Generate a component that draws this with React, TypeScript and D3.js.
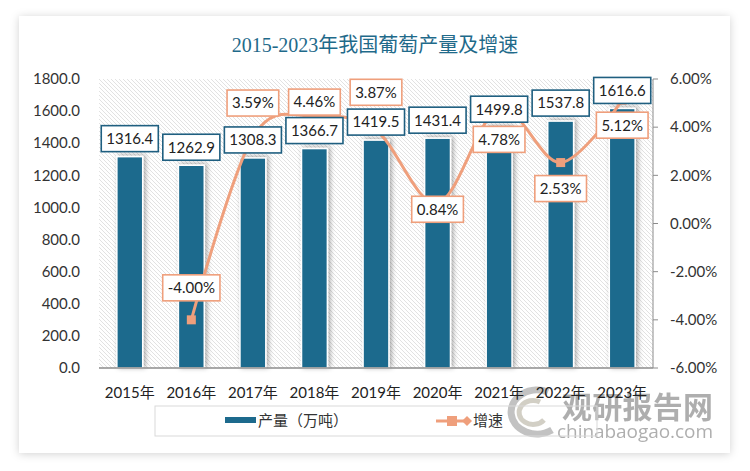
import React, { useEffect, useRef } from 'react';
import * as d3 from 'd3';

// 年份 / 产量（万吨）/ 增速（%）
const years = ['2015年', '2016年', '2017年', '2018年', '2019年', '2020年', '2021年', '2022年', '2023年'];
const output = [1316.4, 1262.9, 1308.3, 1366.7, 1419.5, 1431.4, 1499.8, 1537.8, 1616.6];
const growth: (number | null)[] = [null, -4.0, 3.59, 4.46, 3.87, 0.84, 4.78, 2.53, 5.12];
const leftTicks = [0, 200, 400, 600, 800, 1000, 1200, 1400, 1600, 1800];
const rightTicks = [-6, -4, -2, 0, 2, 4, 6];

// label placement (vertical offset of the % label centre from its point)
const growthLabelDy = [0, -32, -34, -14, -38, 6, 31, 26, 25];

const W = 750;
const H = 471;
const plot = { left: 99, right: 653, top: 79, bottom: 368 };
const FONT = "Lato, 'Noto Sans CJK SC', sans-serif";
const BLUE = '#1d6a8d';
const ORANGE = '#ef9f7c';

const App = () => {
  const svgRef = useRef<SVGSVGElement>(null);

  useEffect(() => {
    const svg = d3.select(svgRef.current);
    svg.selectAll('*').remove();
    svg.attr('width', W).attr('height', H);

    const defs = svg.append('defs');
    const cardShadow = defs.append('filter').attr('id', 'cardShadow')
      .attr('x', '-5%').attr('y', '-5%').attr('width', '110%').attr('height', '110%');
    cardShadow.append('feDropShadow').attr('dx', 0).attr('dy', 1).attr('stdDeviation', 4)
      .attr('flood-color', '#000').attr('flood-opacity', 0.18);

    const barShadow = defs.append('filter').attr('id', 'barShadow')
      .attr('x', '-40%').attr('y', '-10%').attr('width', '180%').attr('height', '120%');
    barShadow.append('feDropShadow').attr('dx', 2).attr('dy', -1).attr('stdDeviation', 2.5)
      .attr('flood-color', '#000').attr('flood-opacity', 0.35);

    const hatch = defs.append('pattern').attr('id', 'hatch')
      .attr('patternUnits', 'userSpaceOnUse').attr('width', 4).attr('height', 4);
    hatch.append('rect').attr('width', 4).attr('height', 4).attr('fill', '#fff');
    hatch.append('path').attr('d', 'M0,0 L4,4 M-1,3 L1,5 M3,-1 L5,1')
      .attr('stroke', '#e2e2e2').attr('stroke-width', 1);

    // card
    svg.append('rect').attr('x', 0).attr('y', 0).attr('width', W).attr('height', H).attr('fill', '#fff');
    svg.append('rect').attr('x', 19).attr('y', 16).attr('width', 711).attr('height', 437)
      .attr('fill', '#fff').attr('filter', 'url(#cardShadow)');

    // title
    svg.append('text').attr('x', 375).attr('y', 52).attr('text-anchor', 'middle')
      .attr('font-family', "'Liberation Serif', 'Noto Sans CJK SC', serif")
      .attr('font-size', 20).attr('fill', '#1f6a8a')
      .text('2015-2023年我国葡萄产量及增速');

    const x = d3.scaleBand().domain(years).range([plot.left, plot.right]);
    const yL = d3.scaleLinear().domain([0, 1800]).range([plot.bottom, plot.top]);
    const yR = d3.scaleLinear().domain([-6, 6]).range([plot.bottom, plot.top]);
    const cx = (d: string) => (x(d) as number) + x.bandwidth() / 2;
    const barW = x.bandwidth() * 0.42;

    // plot area background
    svg.append('rect').attr('x', plot.left).attr('y', plot.top)
      .attr('width', plot.right - plot.left).attr('height', plot.bottom - plot.top)
      .attr('fill', 'url(#hatch)');

    // left axis labels
    svg.append('g').selectAll('text').data(leftTicks).enter().append('text')
      .attr('x', 80).attr('y', d => yL(d)).attr('dy', '0.35em').attr('text-anchor', 'end')
      .attr('font-family', FONT).attr('font-size', 15).attr('fill', '#333')
      .text(d => d.toFixed(1));

    // right axis
    const ra = svg.append('g');
    ra.append('line').attr('x1', plot.right).attr('x2', plot.right)
      .attr('y1', plot.top).attr('y2', plot.bottom).attr('stroke', '#8c8c8c');
    ra.selectAll('line.tick').data(rightTicks).enter().append('line').attr('class', 'tick')
      .attr('x1', plot.right).attr('x2', plot.right + 5)
      .attr('y1', d => yR(d)).attr('y2', d => yR(d)).attr('stroke', '#8c8c8c');
    ra.selectAll('text').data(rightTicks).enter().append('text')
      .attr('x', 670).attr('y', d => yR(d)).attr('dy', '0.35em')
      .attr('font-family', FONT).attr('font-size', 15).attr('fill', '#333')
      .text(d => d.toFixed(2) + '%');

    // bars
    svg.append('g').selectAll('rect').data(output).enter().append('rect')
      .attr('x', (d, i) => cx(years[i]) - barW / 2)
      .attr('y', d => yL(d))
      .attr('width', barW)
      .attr('height', d => yL(0) - yL(d))
      .attr('fill', BLUE).attr('stroke', '#fff').attr('stroke-width', 1.5)
      .attr('filter', 'url(#barShadow)');

    // bottom axis
    svg.append('line').attr('x1', plot.left).attr('x2', plot.right)
      .attr('y1', plot.bottom).attr('y2', plot.bottom).attr('stroke', '#8c8c8c').attr('stroke-width', 1.5);

    // watermark (behind the axis labels and legend text, as in the source)
    const wm = svg.append('g').attr('opacity', 0.6);
    wm.append('path').attr('d', 'M548,392 A26,22 0 1 0 552,430')
      .attr('fill', 'none').attr('stroke', '#9a9a9a').attr('stroke-width', 7);
    wm.append('path').attr('d', 'M540,402 A14,12 0 1 0 544,420')
      .attr('fill', 'none').attr('stroke', '#b5b0a0').attr('stroke-width', 5);
    wm.append('text').attr('x', 562).attr('y', 418).attr('textLength', 151)
      .attr('font-family', "'Noto Sans CJK SC', sans-serif").attr('font-weight', 'bold')
      .attr('font-size', 30).attr('fill', '#7a7a7a').text('观研报告网');
    wm.append('text').attr('x', 557).attr('y', 438).attr('textLength', 156)
      .attr('font-family', "'Open Sans', sans-serif").attr('font-size', 19)
      .attr('fill', '#7a7a7a').text('chinabaogao.com');

    svg.append('g').selectAll('text').data(years).enter().append('text')
      .attr('x', d => cx(d)).attr('y', 398).attr('text-anchor', 'middle')
      .attr('font-family', FONT).attr('font-size', 15).attr('fill', '#222')
      .text(d => d);

    // growth line
    const pts = growth.map((g, i) => ({ g, i })).filter(p => p.g !== null) as { g: number; i: number }[];
    const line = d3.line<{ g: number; i: number }>()
      .x(p => cx(years[p.i])).y(p => yR(p.g))
      .curve(d3.curveCardinal.tension(0));
    svg.append('path').datum(pts).attr('d', line).attr('fill', 'none')
      .attr('stroke', ORANGE).attr('stroke-width', 3);
    svg.append('g').selectAll('rect').data(pts).enter().append('rect')
      .attr('x', p => cx(years[p.i]) - 4.5).attr('y', p => yR(p.g) - 4.5)
      .attr('width', 9).attr('height', 9).attr('fill', ORANGE);

    // labels
    const drawLabel = (px: number, py: number, txt: string, color: string) => {
      const g = svg.append('g');
      const r = g.append('rect');
      const t = g.append('text').attr('x', px).attr('y', py).attr('dy', '0.36em')
        .attr('text-anchor', 'middle').attr('font-family', FONT).attr('font-size', 15)
        .attr('fill', '#222').text(txt);
      const tw = (t.node() as SVGTextElement).getComputedTextLength();
      const bw = tw + 10;
      const bh = 26;
      r.attr('x', px - bw / 2).attr('y', py - bh / 2).attr('width', bw).attr('height', bh)
        .attr('fill', '#fff').attr('stroke', color).attr('stroke-width', 1.6);
    };

    output.forEach((v, i) => {
      drawLabel(cx(years[i]), yL(v) - 5 - 13, v.toFixed(1), '#1f5f80');
    });
    pts.forEach(p => {
      drawLabel(cx(years[p.i]), yR(p.g) + growthLabelDy[p.i], p.g.toFixed(2) + '%', ORANGE);
    });

    // legend
    const lg = svg.append('g');
    lg.append('rect').attr('x', 155).attr('y', 406).attr('width', 442).attr('height', 30)
      .attr('fill', 'none').attr('stroke', '#d9d9d9');
    lg.append('rect').attr('x', 225).attr('y', 417).attr('width', 31).attr('height', 6).attr('fill', BLUE);
    lg.append('text').attr('x', 258).attr('y', 421).attr('dy', '0.36em')
      .attr('font-family', FONT).attr('font-size', 15).attr('fill', '#333').text('产量（万吨）');
    lg.append('line').attr('x1', 436).attr('x2', 470).attr('y1', 421).attr('y2', 421)
      .attr('stroke', ORANGE).attr('stroke-width', 3);
    lg.append('rect').attr('x', 447).attr('y', 416).attr('width', 10).attr('height', 10).attr('fill', ORANGE);
    lg.append('path').attr('d', 'M467,416 L472,421 L467,426 L462,421 Z').attr('fill', ORANGE);
    lg.append('text').attr('x', 473).attr('y', 421).attr('dy', '0.36em')
      .attr('font-family', FONT).attr('font-size', 15).attr('fill', '#333').text('增速');
  }, []);

  return (
    <svg ref={svgRef} style={{ position: 'absolute', left: 0, top: 0 }}></svg>
  );
};

export default App;
